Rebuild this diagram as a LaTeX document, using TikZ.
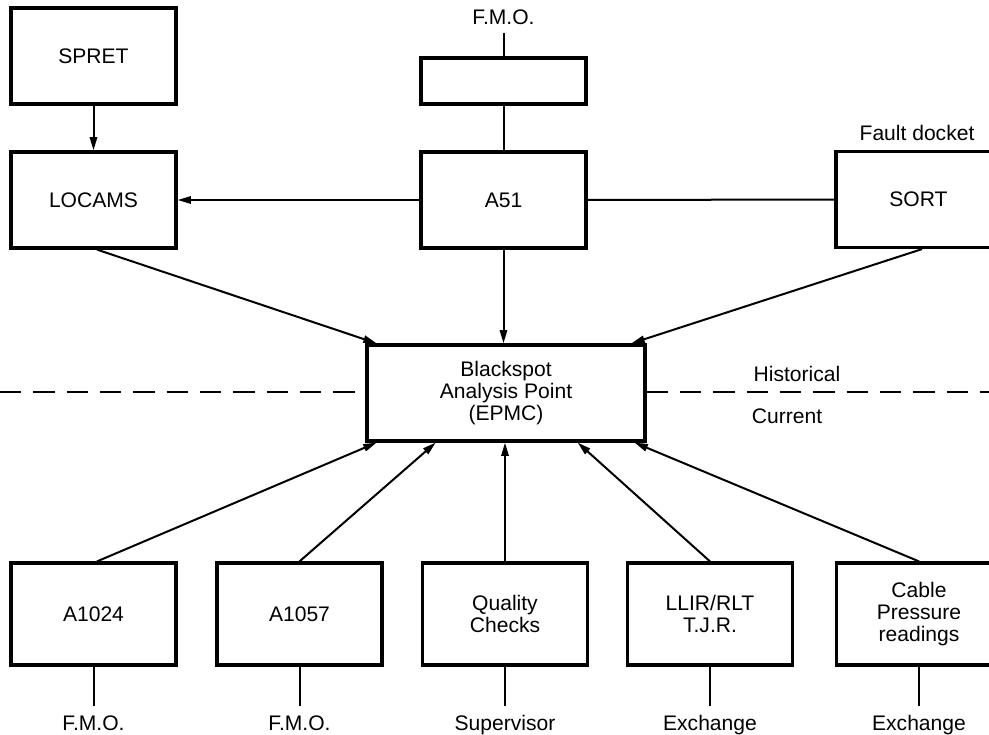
\documentclass[tikz,border=0pt]{standalone}
\usepackage{fontspec}
\setmainfont{Liberation Sans}
\usetikzlibrary{arrows.meta,calc}
\begin{document}
\begin{tikzpicture}[x=0.75pt,y=-0.75pt,
  font=\fontsize{15.8}{16.8}\selectfont,
  box/.style={draw,line width=2.4pt,minimum width=123.75pt,minimum height=72pt,align=center,inner sep=0pt},
  lowbox/.style={box,minimum height=76.5pt},
  conn/.style={line width=1.5pt},
  arr/.style={conn,-{Triangle[length=10pt,width=5.5pt]}},
  lbl/.style={inner sep=0pt,anchor=base}]
\useasboundingbox (0,0) rectangle (989,735);
\clip (0,0) rectangle (989,735);
% boxes
\node[box] (spret) at (93.5,56) {SPRET};
\node[box] (locams) at (93.5,200) {LOCAMS};
\node[box,minimum height=34.5pt] (topbox) at (503.5,81) {};
\node[box] (a51) at (503.5,200) {A51};
\node[box] (sort) at (918.5,199.5) {SORT};
\node[box,minimum width=208.5pt] (bs) at (506,393) {Blackspot\\Analysis Point\\(EPMC)};
\node[lowbox] (a1024) at (93.5,614) {A1024};
\node[lowbox] (a1057) at (299.5,614) {A1057};
\node[lowbox] (qc) at (505,614) {Quality\\Checks};
\node[lowbox] (llir) at (710,614) {LLIR/RLT\\T.J.R.};
\node[lowbox] (cable) at (919,614) {Cable\\Pressure\\readings};
% labels
\node[lbl] (fmotop) at (503.5,25) {F.M.O.};
\node[lbl] (fault) at (917,140) {Fault docket};
\node[lbl] (hist) at (797,381) {Historical};
\node[lbl] (curr) at (787,423) {Current};
\node[lbl] (l1) at (93.5,730) {F.M.O.};
\node[lbl] (l2) at (299.5,730) {F.M.O.};
\node[lbl] (l3) at (505,730) {Supervisor};
\node[lbl] (l4) at (710,730) {Exchange};
\node[lbl] (l5) at (919,730) {Exchange};
% free ends
\coordinate (ftop) at (503.5,33);
\coordinate (e1) at (93.5,706);
\coordinate (e2) at (299.5,706);
\coordinate (e3) at (505,706);
\coordinate (e4) at (710,706);
\coordinate (e5) at (919,706);
\coordinate (dl) at (0,392);
\coordinate (dr) at (989,392);
% connectors
\draw[arr] (spret) -- (locams);
\draw[arr] (a51) -- (locams);
\draw[conn] (a51) -- (sort);
\draw[conn] (ftop) -- (topbox);
\draw[conn] (topbox) -- (a51);
\draw[arr] ($(locams.south)+(3.5,0)$) -- ($(bs.north west)!0.04!(bs.north east)$);
\draw[arr] (a51.south) -- (a51.south |- bs.north);
\draw[arr] ($(sort.south)+(3.5,0)$) -- ($(bs.north west)!0.946!(bs.north east)$);
\draw[arr] ($(a1024.north)+(3.5,0)$) -- ($(bs.south west)!0.04!(bs.south east)$);
\draw[arr] (a1057.north) -- ($(bs.south west)!0.25!(bs.south east)$);
\draw[arr] (qc.north) -- (qc.north |- bs.south);
\draw[arr] (llir.north) -- ($(bs.south west)!0.755!(bs.south east)$);
\draw[arr] (cable.north) -- ($(bs.south west)!0.957!(bs.south east)$);
\draw[conn] (a1024) -- (e1);
\draw[conn] (a1057) -- (e2);
\draw[conn] (qc) -- (e3);
\draw[conn] (llir) -- (e4);
\draw[conn] (cable) -- (e5);
% dashed divider
\draw[conn,dash pattern=on 16pt off 9pt] (dl) -- (bs.west |- dl);
\draw[conn,dash pattern=on 16pt off 9pt] (bs.east |- dr) -- (dr);
\end{tikzpicture}
\end{document}
